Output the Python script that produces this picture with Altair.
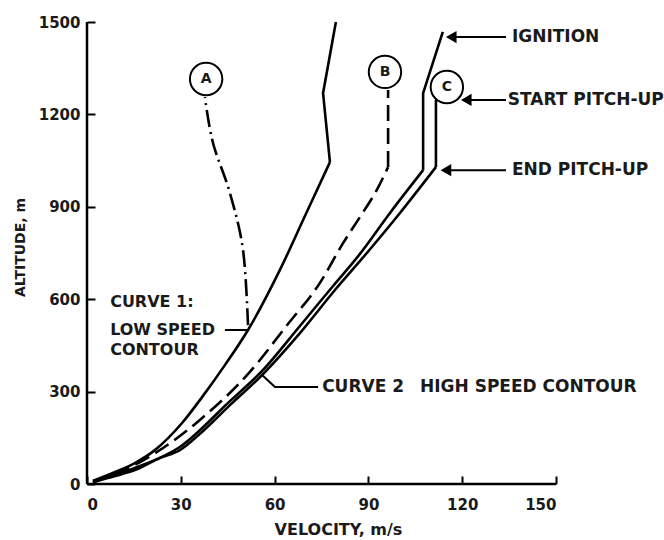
import altair as alt
import pandas as pd

# ---------------- data ----------------
# Curve 1: low speed contour (solid)
c1_v = [1.9, 9.0, 15.3, 21.7, 30.4, 36.8, 44.1, 51.5, 61.7, 69.7, 77.7, 75.5, 79.6]
c1_h = [10, 39, 68, 110, 198, 282, 386, 500, 695, 870, 1045, 1269, 1500]
c1_break = 10

# Curve 2: high speed contour (solid), ends at circle C
c2_v = [1.9, 9.0, 15.3, 23.3, 29.7, 36.8, 45.7, 56.0, 68.1, 79.3, 89.5, 100.1, 111.6, 111.6]
c2_h = [6, 26, 45, 84, 110, 169, 256, 354, 490, 630, 750, 880, 1029, 1247]
c2_break = 12

# Trajectory to ignition (solid)
ig_v = [1.9, 15.3, 29.7, 45.7, 56.0, 68.1, 78.7, 87.3, 96.9, 107.5, 107.5, 113.8]
ig_h = [10, 52, 120, 269, 367, 513, 643, 747, 880, 1019, 1269, 1468]
ig_break = 9

# Trajectory B (dashed)
b_v = [1.9, 10.6, 22.4, 36.1, 52.1, 64.0, 74.5, 81.9, 87.3, 92.7, 96.3, 96.3]
b_h = [6, 39, 104, 208, 364, 516, 653, 782, 867, 955, 1029, 1279]
b_break = 10

# Trajectory A (dash-dot)
a_v = [51.5, 49.9, 45.7, 40.3, 37.7]
a_h = [516, 760, 945, 1107, 1256]

# circled letters
circ_lab = ["A", "B", "C"]
circ_v = [38.1, 95.3, 115.1]
circ_h = [1315, 1338, 1289]

x_ticks = [0, 30, 60, 90, 120, 150]
y_ticks = [0, 300, 600, 900, 1200, 1500]

# annotations (arrows on the right)
arr_lab = ["IGNITION", "START PITCH-UP", "END PITCH-UP"]
arr_h = [1451, 1247, 1019]
arr_tip = [116.5, 121.3, 114.8]
arr_tail = [134.0, 134.0, 134.0]
arr_text = [135.9, 134.6, 135.9]

# curve labels
lab_text = ["CURVE 1:", "LOW SPEED", "CONTOUR"]
lab_v = [7.4, 7.4, 7.4]
lab_h = [591, 500, 435]
lab2_text = ["CURVE 2", "HIGH SPEED CONTOUR"]
lab2_v = [75.2, 106.5]
lab2_h = [315, 315]

FONT = "DejaVu Sans"
INK = "#1a1a1a"
TICK = 8  # inside tick length, px

xs = alt.Scale(domain=[0, 150], nice=False, zero=False)
ys = alt.Scale(domain=[0, 1500], nice=False, zero=False)

# axes are shifted inwards by the tick length so their ticks point into the plot;
# the axis lines themselves are drawn as marks at the plot edges.
X_AXIS = alt.Axis(values=x_ticks, title="VELOCITY, m/s", grid=False, format="d",
                  domain=False, offset=-TICK, ticks=True, tickSize=TICK, tickWidth=2,
                  tickColor="black", labelFont=FONT, labelFontSize=15,
                  labelFontWeight="bold", labelColor=INK, labelPadding=13,
                  titleFont=FONT, titleFontSize=16, titleFontWeight="bold", titleColor=INK,
                  titleX=251, titleY=53, titleBaseline="middle")
Y_AXIS = alt.Axis(values=y_ticks, title="ALTITUDE, m", grid=False, format="d",
                  domain=False, offset=-TICK, ticks=True, tickSize=TICK, tickWidth=2,
                  tickColor="black", labelFont=FONT, labelFontSize=15,
                  labelFontWeight="bold", labelColor=INK, labelPadding=7,
                  titleFont=FONT, titleFontSize=14, titleFontWeight="bold", titleColor=INK,
                  titleX=-75, titleY=225, titleBaseline="middle", titleAngle=270)


def line_df(v, h):
    return pd.DataFrame({"v": v, "h": h, "i": list(range(len(v)))})


def curve(v, h, dash=None, width=2.6, interp="linear"):
    kw = dict(color="black", strokeWidth=width, clip=False, strokeCap="butt",
              interpolate=interp, strokeJoin="miter")
    if dash:
        kw["strokeDash"] = dash
    return alt.Chart(line_df(v, h)).mark_line(**kw).encode(
        x=alt.X("v:Q", scale=xs, axis=X_AXIS),
        y=alt.Y("h:Q", scale=ys, axis=Y_AXIS),
        order="i:Q",
    )


def split_curve(v, h, k, dash=None):
    lower = curve(v[:k + 1], h[:k + 1], dash=dash, interp="monotone")
    upper = curve(v[k:], h[k:], dash=dash)
    return [lower, upper]


layers = []
# axis lines
layers.append(curve([x_ticks[0], x_ticks[-1]], [0, 0], width=2.5))
layers.append(curve([0, 0], [y_ticks[0], y_ticks[-1]], width=2.5))

layers += split_curve(c1_v, c1_h, c1_break)
layers += split_curve(c2_v, c2_h, c2_break)
layers += split_curve(ig_v, ig_h, ig_break)
layers += split_curve(b_v, b_h, b_break, dash=[16, 7])
layers.append(curve(a_v, a_h, dash=[17, 5, 2, 5], interp="cardinal"))

# leaders
layers.append(curve([44.1, 51.5], [500, 500], width=2))
layers.append(curve([56.0, 60.1, 73.9], [354, 315, 315], width=2))

adf = pd.DataFrame({"lab": arr_lab, "h": arr_h, "tip": arr_tip, "tail": arr_tail, "tx": arr_text})
layers.append(alt.Chart(adf).mark_rule(color="black", strokeWidth=2).encode(
    x=alt.X("tip:Q", scale=xs), x2="tail:Q", y=alt.Y("h:Q", scale=ys)))
layers.append(alt.Chart(adf).mark_point(shape="triangle-left", filled=True, color="black",
                                        size=150, opacity=1).encode(
    x=alt.X("tip:Q", scale=xs), y=alt.Y("h:Q", scale=ys)))
layers.append(alt.Chart(adf).mark_text(font=FONT, fontSize=17, fontWeight="bold", color=INK,
                                       align="left", baseline="middle").encode(
    x=alt.X("tx:Q", scale=xs), y=alt.Y("h:Q", scale=ys), text="lab:N"))

ldf = pd.DataFrame({"t": lab_text, "v": lab_v, "h": lab_h})
layers.append(alt.Chart(ldf).mark_text(font=FONT, fontSize=16, fontWeight="bold", color=INK,
                                       align="left", baseline="middle").encode(
    x=alt.X("v:Q", scale=xs), y=alt.Y("h:Q", scale=ys), text="t:N"))
ldf2 = pd.DataFrame({"t": lab2_text, "v": lab2_v, "h": lab2_h})
layers.append(alt.Chart(ldf2).mark_text(font=FONT, fontSize=17, fontWeight="bold", color=INK,
                                        align="left", baseline="middle").encode(
    x=alt.X("v:Q", scale=xs), y=alt.Y("h:Q", scale=ys), text="t:N"))

cdf = pd.DataFrame({"lab": circ_lab, "v": circ_v, "h": circ_h})
layers.append(alt.Chart(cdf).mark_point(shape="circle", filled=True, fill="white", stroke="black",
                                        strokeWidth=2, size=1050, opacity=1).encode(
    x=alt.X("v:Q", scale=xs), y=alt.Y("h:Q", scale=ys)))
layers.append(alt.Chart(cdf).mark_text(font=FONT, fontSize=14, fontWeight="bold", color=INK,
                                       baseline="middle", align="center").encode(
    x=alt.X("v:Q", scale=xs), y=alt.Y("h:Q", scale=ys), text="lab:N"))

chart = alt.layer(*layers).properties(
    width=469, height=462,
    padding={"left": 87, "top": 22, "right": 108, "bottom": 56},
    autosize=alt.AutoSizeParams(type="none"),
    background="white",
).configure_view(stroke=None)

chart.save("out.html", embed_options={"renderer": "svg", "actions": False})
